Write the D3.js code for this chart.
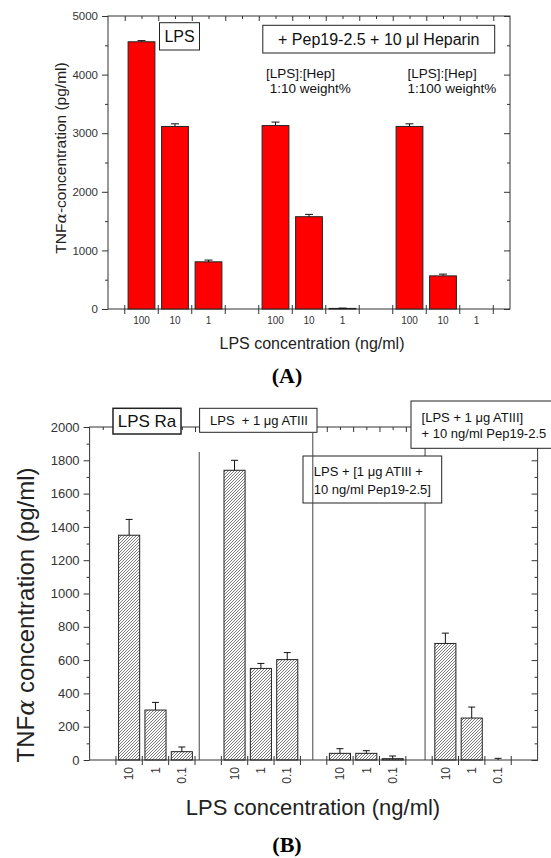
<!doctype html>
<html lang="en">
<head>
<meta charset="UTF-8">
<title>TNF-alpha release</title>
<script src="https://cdn.jsdelivr.net/npm/d3@7"></script>
<style>
body { margin:0; background:#fff; }
svg text { font-family: "Liberation Sans", Arial, sans-serif; }
svg text.panel { font-family: "Liberation Serif", "Times New Roman", serif; font-weight: bold; }
</style>
</head>
<body>
<div id="viz"></div>
<script>

// panel A: LPS alone and with Pep19-2.5 + heparin
var aSlots  = [0, 1, 2, 4, 5, 6, 8, 9, 10];
var aDoses  = ["100", "10", "1", "100", "10", "1", "100", "10", "1"];
var aValues = [4560, 3115, 805, 3130, 1575, 10, 3115, 565, 0];
var aErrors = [20, 45, 30, 60, 40, 5, 45, 30, 0];
var aYTicks = [0, 1000, 2000, 3000, 4000, 5000];
var aYMinor = [500, 1500, 2500, 3500, 4500];

// panel B: LPS Ra with ATIII / Pep19-2.5
var bSlots  = [1, 2, 3, 5, 6, 7, 9, 10, 11, 13, 14, 15];
var bDoses  = ["10", "1", "0.1", "10", "1", "0.1", "10", "1", "0.1", "10", "1", "0.1"];
var bValues = [1350, 300, 50, 1740, 550, 603, 40, 40, 8, 700, 252, 0];
var bErrors = [95, 46, 28, 60, 30, 42, 28, 16, 16, 62, 66, 10];
var bYTicks = [0, 200, 400, 600, 800, 1000, 1200, 1400, 1600, 1800, 2000];
var bYMinor = [100, 300, 500, 700, 900, 1100, 1300, 1500, 1700, 1900];
var bSepX   = [4.16, 8.47, 12.73];
var bSepTop = [1850, 1965, 2000];
var bSepOver = [false, true, false];

var FONT = '"Liberation Sans", Arial, sans-serif';
var AX = '#333';

var svg = d3.select('#viz').append('svg').attr('width', 551).attr('height', 858);

svg.append('defs').append('pattern')
  .attr('id', 'hatch').attr('patternUnits', 'userSpaceOnUse')
  .attr('width', 3).attr('height', 3)
  .append('path')
  .attr('d', 'M-1,1 l2,-2 M0,3 l3,-3 M2,4 l2,-2')
  .attr('stroke', '#222').attr('stroke-width', 0.6);

function clean(g){
  g.select('.domain').remove();
  g.selectAll('line').attr('stroke', AX);
  g.attr('font-family', FONT);
  return g;
}

function frame(g, x, y){
  var r = x.range(), d = y.range();
  g.append('rect')
    .attr('x', r[0]).attr('y', d[1])
    .attr('width', r[1] - r[0]).attr('height', d[0] - d[1])
    .attr('fill', 'none').attr('stroke', AX).attr('stroke-width', 1);
}

function yTicks(g, x, y, major, minor, fs){
  var x0 = x.range()[0], x1 = x.range()[1];
  var l = g.append('g').attr('transform', 'translate(' + x0 + ',0)')
    .call(d3.axisLeft(y).tickValues(major).tickSize(6).tickPadding(4).tickFormat(d3.format('d')));
  clean(l).attr('font-size', fs);
  l.selectAll('text').attr('fill', '#333');
  clean(g.append('g').attr('transform', 'translate(' + x0 + ',0)')
    .call(d3.axisLeft(y).tickValues(minor).tickSize(3).tickFormat('')));
  clean(g.append('g').attr('transform', 'translate(' + x1 + ',0)')
    .call(d3.axisRight(y).tickValues(major).tickSize(-6).tickFormat('')));
  clean(g.append('g').attr('transform', 'translate(' + x1 + ',0)')
    .call(d3.axisRight(y).tickValues(minor).tickSize(-3).tickFormat('')));
}

function xTicks(g, x, y, bounds, halves){
  var top = y.range()[1], base = y.range()[0];
  clean(g.append('g').attr('transform', 'translate(0,' + top + ')')
    .call(d3.axisTop(x).tickValues(bounds).tickSize(-5).tickFormat('')));
  clean(g.append('g').attr('transform', 'translate(0,' + top + ')')
    .call(d3.axisTop(x).tickValues(halves).tickSize(-3).tickFormat('')));
  // bottom ticks cross the axis line
  g.selectAll('line.xt').data(bounds).enter().append('line')
    .attr('x1', function(d){ return x(d); }).attr('x2', function(d){ return x(d); })
    .attr('y1', base - 4).attr('y2', base + 5)
    .attr('stroke', AX);
}

function bars(g, x, y, slots, values, errors, fill, cap){
  var idx = d3.range(values.length).filter(function(i){ return values[i] > 0; });
  g.selectAll(null).data(idx).enter().append('rect')
    .attr('x', function(i){ return x(slots[i] + 0.1); })
    .attr('width', function(i){ return x(slots[i] + 0.9) - x(slots[i] + 0.1); })
    .attr('y', function(i){ return y(values[i]); })
    .attr('height', function(i){ return y(0) - y(values[i]); })
    .attr('fill', fill).attr('stroke', '#222').attr('stroke-width', 1);
  var eb = d3.range(values.length).filter(function(i){ return errors[i] > 0; });
  var e = g.selectAll(null).data(eb).enter().append('g').attr('stroke', '#111');
  e.append('line')
    .attr('x1', function(i){ return x(slots[i] + 0.5); })
    .attr('x2', function(i){ return x(slots[i] + 0.5); })
    .attr('y1', function(i){ return y(values[i]); })
    .attr('y2', function(i){ return y(values[i] + errors[i]); });
  e.append('line')
    .attr('x1', function(i){ return x(slots[i] + 0.5) - cap / 2; })
    .attr('x2', function(i){ return x(slots[i] + 0.5) + cap / 2; })
    .attr('y1', function(i){ return y(values[i] + errors[i]); })
    .attr('y2', function(i){ return y(values[i] + errors[i]); });
}

function box(g, bx, by, bw, bh, lines, tx, ty, lh, fs, anchor, sw){
  g.append('rect').attr('x', bx).attr('y', by).attr('width', bw).attr('height', bh)
    .attr('fill', '#fff').attr('stroke', '#222').attr('stroke-width', sw || 1);
  label(g, lines, tx, ty, lh, fs, anchor);
}

function label(g, lines, tx, ty, lh, fs, anchor){
  g.selectAll(null).data(lines).enter().append('text')
    .attr('x', tx).attr('y', function(d, i){ return ty + i * lh; })
    .attr('dy', '0.35em')
    .attr('text-anchor', anchor || 'start')
    .attr('font-size', fs).attr('fill', '#111')
    .style('white-space', 'pre')
    .text(function(d){ return d; });
}

// ---------- A ----------
var xA = d3.scaleLinear().domain([-0.5, 11.5]).range([108, 510]);
var yA = d3.scaleLinear().domain([0, 5000]).range([309, 16]);
var gA = svg.append('g');

frame(gA, xA, yA);
yTicks(gA, xA, yA, aYTicks, aYMinor, 11.5);
xTicks(gA, xA, yA, d3.range(0, 12), d3.range(0.5, 11, 1));
bars(gA, xA, yA, aSlots, aValues, aErrors, '#ff0000', 8);

gA.selectAll(null).data(aDoses).enter().append('text')
  .attr('x', function(d, i){ return xA(aSlots[i] + 0.5); })
  .attr('y', 324)
  .attr('text-anchor', 'middle').attr('font-size', 10).attr('fill', '#333')
  .text(function(d){ return d; });

gA.append('text').attr('transform', 'translate(66,158) rotate(-90)')
  .attr('text-anchor', 'middle').attr('font-size', 15.5).attr('fill', '#222')
  .html('TNF<tspan font-family="DejaVu Serif" font-style="italic">α</tspan>-concentration (pg/ml)');

gA.append('text').attr('x', 312).attr('y', 349)
  .attr('text-anchor', 'middle').attr('font-size', 16).attr('fill', '#222')
  .text('LPS concentration (ng/ml)');

box(gA, 159.5, 22.7, 40, 27.3, ['LPS'], 179.5, 36.3, 0, 16, 'middle');
box(gA, 262.8, 25.3, 231.9, 27.7, ['+ Pep19-2.5 + 10 \u03bcl Heparin'], 378.7, 39.2, 0, 16, 'middle');
label(gA, ['[LPS]:[Hep]', ' 1:10 weight%'], 266, 73, 15.5, 13.5);
label(gA, ['[LPS]:[Hep]', '1:100 weight%'], 407.6, 73, 15.5, 13.5);

svg.append('text').attr('class', 'panel').attr('x', 287).attr('y', 383)
  .attr('text-anchor', 'middle').attr('font-size', 22)
  .text('(A)');

// ---------- B ----------
var xB = d3.scaleLinear().domain([0, 17]).range([89.6, 537.6]);
var yB = d3.scaleLinear().domain([0, 2000]).range([760, 427]);
var gB = svg.append('g');

frame(gB, xB, yB);
yTicks(gB, xB, yB, bYTicks, bYMinor, 13);
xTicks(gB, xB, yB, d3.range(1, 17), d3.range(0.5, 17, 1));
bars(gB, xB, yB, bSlots, bValues, bErrors, 'url(#hatch)', 7);

function seps(over){
  gB.selectAll(null).data(d3.range(bSepX.length).filter(function(i){ return bSepOver[i] === over; }))
    .enter().append('line')
    .attr('x1', function(i){ return xB(bSepX[i]); }).attr('x2', function(i){ return xB(bSepX[i]); })
    .attr('y1', function(i){ return yB(bSepTop[i]); }).attr('y2', yB(0))
    .attr('stroke', '#444').attr('stroke-width', 1);
}
seps(false);

gB.selectAll(null).data(bDoses).enter().append('text')
  .attr('transform', function(d, i){ return 'translate(' + xB(bSlots[i] + 0.5) + ',767) rotate(-90)'; })
  .attr('text-anchor', 'end').attr('dy', '0.35em')
  .attr('font-size', 12).attr('fill', '#333')
  .text(function(d){ return d; });

gB.append('text').attr('transform', 'translate(34,615) rotate(-90)')
  .attr('text-anchor', 'middle').attr('font-size', 24).attr('fill', '#222')
  .html('TNF<tspan font-family="DejaVu Serif" font-style="italic">α</tspan> concentration (pg/ml)');

gB.append('text').attr('x', 313).attr('y', 815)
  .attr('text-anchor', 'middle').attr('font-size', 22).attr('fill', '#222')
  .text('LPS concentration (ng/ml)');

box(gB, 113, 408.3, 68, 25.7, ['LPS Ra'], 147, 421.5, 0, 17, 'middle', 1.5);
box(gB, 199.6, 408.3, 117.4, 24, ['LPS  + 1 \u03bcg ATIII'], 210, 420.5, 0, 13);
box(gB, 411, 401, 145, 47.3, ['[LPS + 1 \u03bcg ATIII]', '+ 10 ng/ml Pep19-2.5'], 421.6, 417, 16, 13);
box(gB, 303, 456, 138.7, 47, ['LPS + [1 \u03bcg ATIII +', '10 ng/ml Pep19-2.5]'], 313.8, 471.5, 17.5, 13);
seps(true);

svg.append('text').attr('class', 'panel').attr('x', 287).attr('y', 852)
  .attr('text-anchor', 'middle').attr('font-size', 22)
  .text('(B)');

</script>
</body>
</html>
